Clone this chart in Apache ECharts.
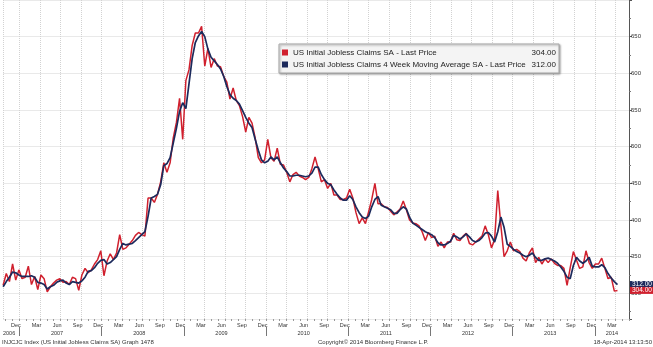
<!DOCTYPE html>
<html><head><meta charset="utf-8">
<script src="https://cdn.jsdelivr.net/npm/echarts@6/dist/echarts.min.js"></script>
<style>html,body{margin:0;padding:0;background:#fff}#c{width:653px;height:347px}</style>
</head><body><div id="c"></div>
<script>
// ---- data (biweekly readings, first week ending 2006-10-21) ----
const startDate = '2006-10-21';
const stepDays = 14;
const claims = [
311,327,316,340,318,332,320,322,337,312,
323,305,325,320,302,309,314,318,320,315,
316,312,322,320,304,325,334,328,332,340,
346,358,324,344,354,346,355,380,360,362,
367,372,379,383,380,378,430,430,424,435,
452,478,465,478,512,533,566,510,590,605,
638,655,655,664,610,634,608,620,610,609,
596,588,565,580,563,556,541,520,540,532,
512,485,478,482,510,485,480,498,476,475,
465,452,462,465,460,458,455,458,470,486,
470,452,455,443,450,434,434,428,428,430,
442,430,410,395,403,395,411,428,450,422,
422,418,417,412,407,411,415,426,414,400,
396,395,392,384,372,383,376,378,364,370,
362,370,370,382,373,372,378,382,368,366,
370,374,378,392,380,362,373,440,392,350,
358,370,358,360,357,348,344,355,362,342,
349,340,347,342,347,341,338,338,334,311,
335,357,345,334,336,358,342,334,340,340,
348,334,320,322,303,304
];
const movingAvg = [
309,316,322,329,328,325,323,323,323,324,
322,315,314,312,306,309,311,315,317,318,
314,312,316,315,314,317,322,330,331,335,
341,345,346,340,342,346,350,360,368,366,
367,368,372,376,380,384,405,430,432,435,
448,474,477,485,505,525,548,560,552,586,
620,642,651,657,650,633,622,617,612,606,
596,582,571,566,563,558,549,540,532,526,
510,495,482,478,480,486,482,486,478,471,
466,460,460,461,461,460,459,460,464,472,
472,462,455,450,448,441,435,430,427,427,
433,428,418,410,404,402,405,418,428,432,
420,418,416,414,409,409,414,418,415,404,
396,393,390,387,384,382,380,376,369,366,
366,368,371,379,377,374,377,381,377,372,
370,372,376,382,383,378,370,384,404,390,
367,364,360,357,355,352,350,352,355,349,
345,345,347,348,346,344,341,336,330,322,
320,338,349,344,341,344,349,337,336,336,
339,335,327,321,316,312
];
const seriesNames = [
  'US Initial Jobless Claims SA - Last Price',
  'US Initial Jobless Claims 4 Week Moving Average SA - Last Price'
];
const monthNames = ['Jan','Feb','Mar','Apr','May','Jun','Jul','Aug','Sep','Oct','Nov','Dec'];
const yTickLabels = [300,350,400,450,500,550,600,650];
const yMinorTicks = [275,325,375,425,475,525,575,625,675];
const footerTexts = [
  'INJCJC Index (US Initial Jobless Claims SA) Graph 1478',
  'Copyright\u00A9 2014 Bloomberg Finance L.P.',
  '18-Apr-2014 13:13:50'
];

// ---- helpers: x measured in months since 2006-01-01 ----
const DAY = 86400000, MONTH = 30.4375 * DAY;
const base = Date.UTC(2006, 0, 1);
const t0 = Date.parse(startDate);
const xOf = i => (t0 + i * stepDays * DAY - base) / MONTH;
const redData = claims.map((v, i) => [xOf(i), v]);
const blueData = movingAvg.map((v, i) => [xOf(i), v]);
const lastRed = claims[claims.length - 1].toFixed(2);
const lastBlue = movingAvg[movingAvg.length - 1].toFixed(2);
const lastLabels = {};
lastLabels[seriesNames[0]] = lastRed;
lastLabels[seriesNames[1]] = lastBlue;

const XMIN = 9.68, XMAX = 101.0;
const monthLabelPos = []; for (let m = 11; m <= 98; m += 3) monthLabelPos.push(m + 0.5);
const monthTickPos = []; for (let m = 10; m <= 101; m++) monthTickPos.push(m);
const yearSepPos = []; for (let m = 12; m <= 96; m += 12) yearSepPos.push(m);
const yearLabelPos = [10.5]; for (let m = 17.5; m <= 90; m += 12) yearLabelPos.push(m); yearLabelPos.push(98.5);

const RED = '#d0202e', NAVY = '#1c2a5c';
const FONT = 'Liberation Sans';
function tagItem(value, text, color) {
  return {
    yAxis: value,
    label: { show: true, position: 'end', distance: 1, formatter: text,
      backgroundColor: color, color: '#fff', fontSize: 6.5, lineHeight: 7, padding: [0, 2, 0, 2], fontFamily: FONT }
  };
}
const chart = echarts.init(document.getElementById('c'));
chart.setOption({
  animation: false,
  backgroundColor: '#fff',
  textStyle: { fontFamily: FONT },
  grid: { left: 0, right: 24, top: 0, bottom: 28, containLabel: false },
  legend: {
    orient: 'vertical', left: 279, top: 44,
    itemWidth: 6, itemHeight: 6, itemGap: 1, icon: 'rect',
    backgroundColor: '#f4f4f4', borderColor: '#a8a8a8', borderWidth: 1,
    padding: [3, 3, 3, 3],
    shadowBlur: 2, shadowColor: 'rgba(0,0,0,0.35)', shadowOffsetX: 1, shadowOffsetY: 1,
    data: seriesNames,
    formatter: name => '{n|' + name + '}{v|' + lastLabels[name] + '}',
    textStyle: {
      fontSize: 8, color: '#222', fontFamily: FONT, lineHeight: 11,
      rich: { n: { width: 231, fontSize: 8, fontFamily: FONT }, v: { width: 32, align: 'right', fontSize: 8, fontFamily: FONT } }
    }
  },
  xAxis: [
    {
      type: 'value', min: XMIN, max: XMAX, position: 'bottom', splitNumber: 30,
      axisLine: { show: false }, axisTick: { show: false },
      splitLine: { show: true, lineStyle: { type: 'dotted', color: '#d2d2d2', width: 1 } },
      axisLabel: {
        customValues: monthLabelPos, margin: 3, fontSize: 5.5, color: '#333', fontFamily: FONT,
        formatter: v => monthNames[Math.floor(v) % 12]
      }
    },
    {
      type: 'value', min: XMIN, max: XMAX, position: 'bottom',
      axisLine: { show: false },
      axisTick: { show: true, customValues: monthTickPos, length: 2, lineStyle: { color: '#999' } },
      axisLabel: { show: false }, splitLine: { show: false }
    },
    {
      type: 'value', min: XMIN, max: XMAX, position: 'bottom', offset: 8,
      axisLine: { show: false },
      axisTick: { show: true, customValues: yearSepPos, length: 9, lineStyle: { color: '#777' } },
      axisLabel: {
        customValues: yearLabelPos, margin: 3, fontSize: 5.5, color: '#333', fontFamily: FONT,
        formatter: v => String(2006 + Math.floor(v / 12))
      },
      splitLine: { show: false }
    }
  ],
  yAxis: [
    {
      type: 'value', position: 'right', min: 265, max: 700, splitNumber: 9,
      axisLine: { show: true, lineStyle: { color: '#555' } },
      axisTick: { show: true, length: 3, lineStyle: { color: '#555' } },
      axisLabel: { customValues: yTickLabels, margin: 2, fontSize: 6, color: '#333', fontFamily: FONT },
      splitLine: { show: true, lineStyle: { type: 'dotted', color: '#d2d2d2', width: 1 } }
    },
    {
      type: 'value', position: 'right', min: 265, max: 700,
      axisLine: { show: false },
      axisTick: { show: true, customValues: yMinorTicks, length: 2, lineStyle: { color: '#777' } },
      axisLabel: { show: false }, splitLine: { show: false }
    }
  ],
  series: [
    {
      name: seriesNames[0], type: 'line', data: redData, showSymbol: false,
      color: RED, lineStyle: { color: RED, width: 1.5 }
    },
    {
      name: seriesNames[1], type: 'line', data: blueData, showSymbol: false,
      color: NAVY, lineStyle: { color: NAVY, width: 1.7 },
      markLine: {
        silent: true, symbol: 'none',
        lineStyle: { color: 'rgba(0,0,0,0)', width: 0 },
        data: [
          tagItem(movingAvg[movingAvg.length - 1], lastBlue, NAVY),
          tagItem(claims[claims.length - 1], lastRed, RED)
        ]
      }
    }
  ],
  graphic: [
    { type: 'text', left: 2, top: 339, style: { text: footerTexts[0], fontSize: 6, fill: '#333', fontFamily: FONT } },
    { type: 'text', left: 318, top: 339, style: { text: footerTexts[1], fontSize: 6, fill: '#333', fontFamily: FONT } },
    { type: 'text', right: 1, top: 339, style: { text: footerTexts[2], fontSize: 6, fill: '#333', fontFamily: FONT } }
  ]
});
</script></body></html>
